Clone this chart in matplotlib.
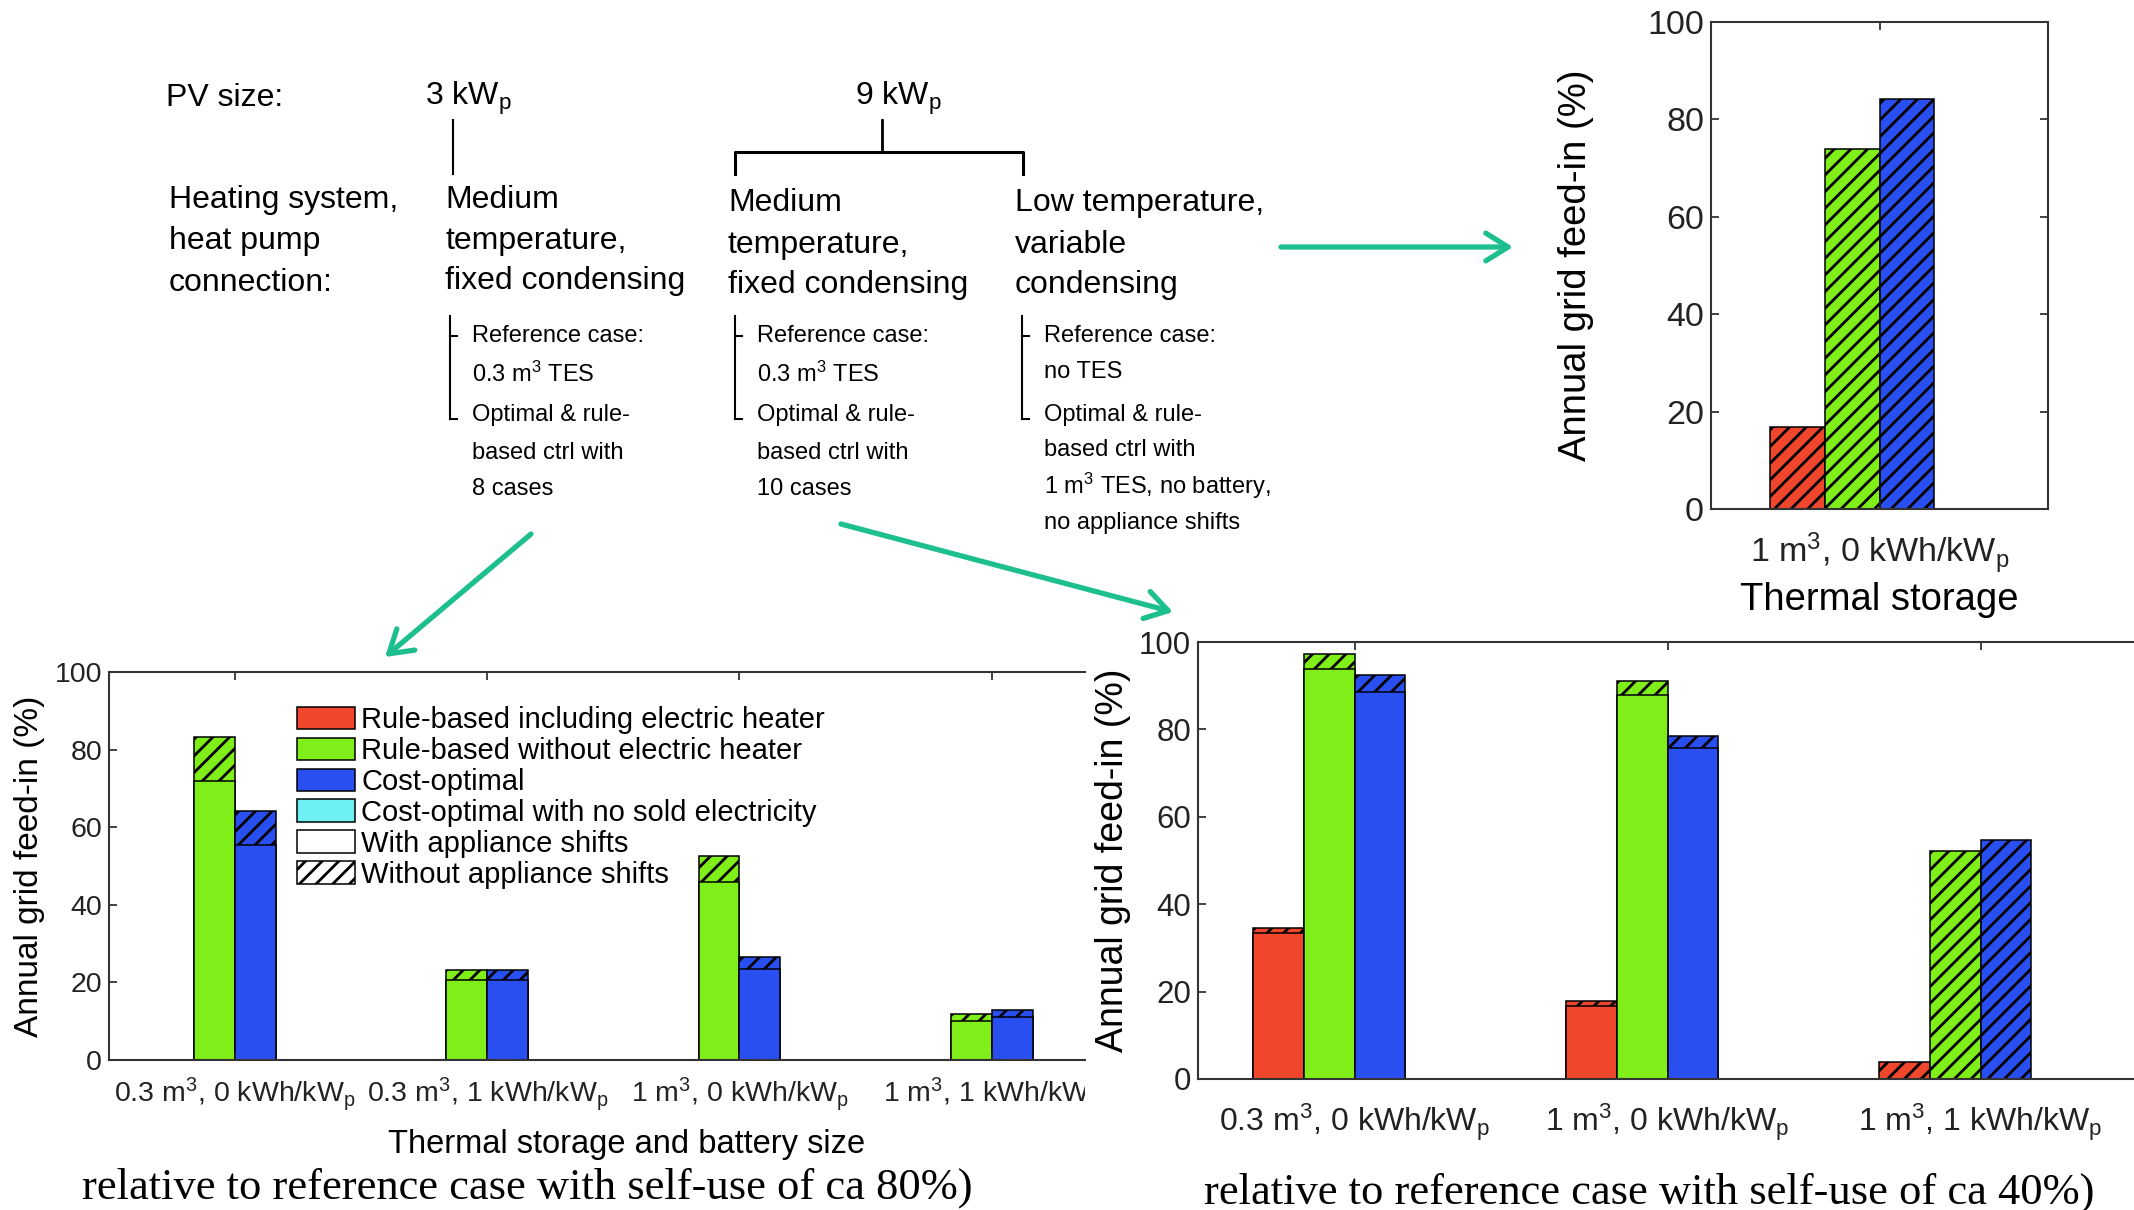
import numpy as np
import matplotlib
matplotlib.use("Agg")
import matplotlib.pyplot as plt
from matplotlib.patches import Patch, FancyArrowPatch
from matplotlib.lines import Line2D
from matplotlib.transforms import Bbox, TransformedBbox

W, H = 2134, 1210

plt.rcParams["font.family"] = ["Liberation Sans", "DejaVu Sans"]
plt.rcParams["mathtext.fontset"] = "custom"
plt.rcParams["mathtext.rm"] = "Liberation Sans"
plt.rcParams["mathtext.it"] = "Liberation Sans:italic"
plt.rcParams["hatch.linewidth"] = 2.0

# ---- data: annual grid feed-in (%) ----
series = [
    "Rule-based including electric heater",
    "Rule-based without electric heater",
    "Cost-optimal",
    "Cost-optimal with no sold electricity",
]
colors = ["#f0472c", "#80ee18", "#2a4ff0", "#6ef0f4"]

# 3 kWp, medium temperature, fixed condensing
cases_3kw = [
    "0.3 m$^3$, 0 kWh/kW$_\\mathrm{p}$",
    "0.3 m$^3$, 1 kWh/kW$_\\mathrm{p}$",
    "1 m$^3$, 0 kWh/kW$_\\mathrm{p}$",
    "1 m$^3$, 1 kWh/kW$_\\mathrm{p}$",
]
feed_3kw_with = [
    [0, 0, 0, 0],
    [72.0, 20.5, 46.0, 10.0],
    [55.5, 20.5, 23.5, 11.2],
    [0, 0, 0, 0],
]
feed_3kw_without = [
    [0, 0, 0, 0],
    [83.3, 23.2, 52.6, 11.8],
    [64.1, 23.2, 26.6, 12.9],
    [0, 0, 0, 0],
]

# 9 kWp, medium temperature, fixed condensing
cases_9kw_med = [
    "0.3 m$^3$, 0 kWh/kW$_\\mathrm{p}$",
    "1 m$^3$, 0 kWh/kW$_\\mathrm{p}$",
    "1 m$^3$, 1 kWh/kW$_\\mathrm{p}$",
]
feed_9kw_med_with = [
    [33.5, 16.7, 0],
    [93.9, 87.9, 0],
    [88.6, 75.8, 0],
    [0, 0, 0],
]
feed_9kw_med_without = [
    [34.6, 17.8, 4.0],
    [97.2, 91.1, 52.1],
    [92.4, 78.5, 54.6],
    [0, 0, 0],
]

# 9 kWp, low temperature, variable condensing
cases_9kw_low = ["1 m$^3$, 0 kWh/kW$_\\mathrm{p}$"]
feed_9kw_low_without = [[16.8], [73.9], [84.1], [0]]

BAR_W = 0.162
TEAL = "#1dbf8e"


def px(x, y):
    """pixel position -> figure fraction"""
    return x / W, 1 - y / H


def axes_px(left, top, right, bottom):
    return [left / W, 1 - bottom / H, (right - left) / W, (bottom - top) / H]


def grouped_bars(ax, without, with_shift=None):
    n = len(without[0])
    x = np.arange(1, n + 1)
    for i, col in enumerate(colors):
        xi = x + (i - 1.5) * BAR_W
        ax.bar(xi, without[i], BAR_W, color=col, edgecolor="k", lw=1.1,
               hatch="//")
        if with_shift is not None:
            ax.bar(xi, with_shift[i], BAR_W, color=col, edgecolor="k", lw=1.1)
    return x


def style_axes(ax, x, labels, fs_tick, fs_ytick, right=False, xpad=9):
    ax.set_ylim(0, 100)
    ax.set_yticks(range(0, 101, 20))
    ax.set_xticks(x)
    ax.set_xticklabels(labels, fontsize=fs_tick)
    ax.tick_params(axis="y", labelsize=fs_ytick, pad=5)
    ax.tick_params(axis="x", pad=xpad)
    ax.tick_params(direction="in", length=6, width=1.2, top=True, right=right,
                   colors="#222222")
    ax.spines["right"].set_visible(right)
    for s in ax.spines.values():
        s.set_linewidth(1.5)
        s.set_color("#333333")


fig = plt.figure(figsize=(W / 100, H / 100), dpi=100, facecolor="w")

# ---- bottom left: 3 kWp ----
ax1 = fig.add_axes(axes_px(109, 672, 1085, 1060))
x1 = grouped_bars(ax1, feed_3kw_without, feed_3kw_with)
style_axes(ax1, x1, cases_3kw, 20.5, 20.5, xpad=11)
ax1.set_xlim(0.5, 4.37)
ax1.set_ylabel("Annual grid feed-in (%)", fontsize=24)
ax1.yaxis.set_label_coords(-0.066, 0.5)
ax1.set_xlabel("Thermal storage and battery size", fontsize=23.5)
ax1.xaxis.set_label_coords(0.53, -0.178)
clip = TransformedBbox(Bbox([[0, 0], [1085 / W, 1]]), fig.transFigure)
for tick in ax1.xaxis.get_major_ticks():
    tick.label1.set_clip_box(clip)
    tick.label1.set_clip_on(True)

handles = [Patch(facecolor=c, edgecolor="k", lw=1.1) for c in colors]
handles += [Patch(facecolor="w", edgecolor="k", lw=1.1),
            Patch(facecolor="w", edgecolor="k", lw=1.1, hatch="//")]
ax1.legend(handles, series + ["With appliance shifts", "Without appliance shifts"],
           loc="upper left", bbox_to_anchor=px(297, 706),
           bbox_transform=fig.transFigure, frameon=False, fontsize=21,
           handlelength=2.0, handleheight=0.8, handletextpad=0.2,
           labelspacing=0.1, borderpad=0, borderaxespad=0)

# ---- bottom right: 9 kWp, medium temperature ----
ax2 = fig.add_axes(axes_px(1198, 642, 2134, 1079))
x2 = grouped_bars(ax2, feed_9kw_med_without, feed_9kw_med_with)
style_axes(ax2, x2, cases_9kw_med, 23, 22.5, xpad=16)
ax2.set_xlim(0.5, 3.49)
ax2.set_ylabel("Annual grid feed-in (%)", fontsize=27)
ax2.yaxis.set_label_coords(-0.072, 0.5)

# ---- top right: 9 kWp, low temperature ----
ax3 = fig.add_axes(axes_px(1711, 22, 2048, 509))
x3 = grouped_bars(ax3, feed_9kw_low_without)
style_axes(ax3, x3, cases_9kw_low, 24.5, 24.5, right=True, xpad=16)
ax3.set_xlim(0.5, 1.5)
ax3.set_ylabel("Annual grid feed-in (%)", fontsize=27.5)
ax3.yaxis.set_label_coords(-0.347, 0.5)
ax3.set_xlabel("Thermal storage", fontsize=27.5)
ax3.xaxis.set_label_coords(0.5, -0.15)

# ---- case tree ----
tree_fs = 23
sub_fs = 17
fig.text(*px(166, 98), "PV size:", fontsize=tree_fs, va="center")
fig.text(*px(425, 98), "3 kW$_\\mathrm{p}$", fontsize=tree_fs, va="center")
fig.text(*px(855, 98), "9 kW$_\\mathrm{p}$", fontsize=tree_fs, va="center")

heads = [
    (169, ["Heating system,", "heat pump", "connection:"], [200, 241, 283]),
    (445, ["Medium", "temperature,", "fixed condensing"], [200, 241, 281]),
    (728, ["Medium", "temperature,", "fixed condensing"], [203, 245, 285]),
    (1015, ["Low temperature,", "variable", "condensing"], [203, 245, 285]),
]
for xh, lines, ys in heads:
    for txt, yh in zip(lines, ys):
        fig.text(*px(xh, yh), txt, fontsize=tree_fs, va="center")

subs = [
    (450, ["Reference case:", "0.3 m$^3$ TES", "Optimal & rule-",
           "based ctrl with", "8 cases"], [336, 374, 415, 453, 489]),
    (735, ["Reference case:", "0.3 m$^3$ TES", "Optimal & rule-",
           "based ctrl with", "10 cases"], [336, 374, 415, 453, 489]),
    (1022, ["Reference case:", "no TES", "Optimal & rule-", "based ctrl with",
            "1 m$^3$ TES, no battery,", "no appliance shifts"],
     [336, 372, 415, 450, 486, 523]),
]
for xs, lines, ys in subs:
    for txt, ys_ in zip(lines, ys):
        fig.text(*px(xs + 22, ys_), txt, fontsize=sub_fs, va="center")
    xa, ya = px(xs, 316)
    xb, yb = px(xs, 419)
    fig.add_artist(Line2D([xa, xb], [ya, yb], color="k", lw=1.5,
                          transform=fig.transFigure))
    for yt in (336, 419):
        x0, y0 = px(xs, yt)
        x1_, _ = px(xs + 7, yt)
        fig.add_artist(Line2D([x0, x1_], [y0, y0], color="k", lw=1.5,
                              transform=fig.transFigure))

tree_lines = [
    ([(453, 120), (453, 174)], 1.5),
    ([(882, 120), (882, 152)], 2.0),
    ([(735, 174), (735, 152), (1023, 152), (1023, 174)], 2.2),
]
for pts, lw in tree_lines:
    xs_, ys_ = zip(*[px(a, b) for a, b in pts])
    fig.add_artist(Line2D(xs_, ys_, color="k", lw=lw,
                          transform=fig.transFigure))

# ---- arrows linking the tree to the panels ----
arrows = [((1281, 247), (1513, 247)), ((531, 534), (385, 657)),
          ((841, 524), (1173, 612))]
for a, b in arrows:
    fig.add_artist(FancyArrowPatch(px(*a), px(*b), transform=fig.transFigure,
                                   arrowstyle="->,head_length=16,head_width=10",
                                   mutation_scale=1, lw=3.8, color=TEAL,
                                   shrinkA=0, shrinkB=0, capstyle="round",
                                   joinstyle="round"))

# ---- captions ----
cap_font = ["Liberation Serif", "DejaVu Serif"]
fig.text(*px(82, 1188), "relative to reference case with self-use of ca 80%)",
         fontsize=32, va="center", family=cap_font)
fig.text(*px(1204, 1193), "relative to reference case with self-use of ca 40%)",
         fontsize=32, va="center", family=cap_font)

fig.savefig("out.png", dpi=100, facecolor="w")
